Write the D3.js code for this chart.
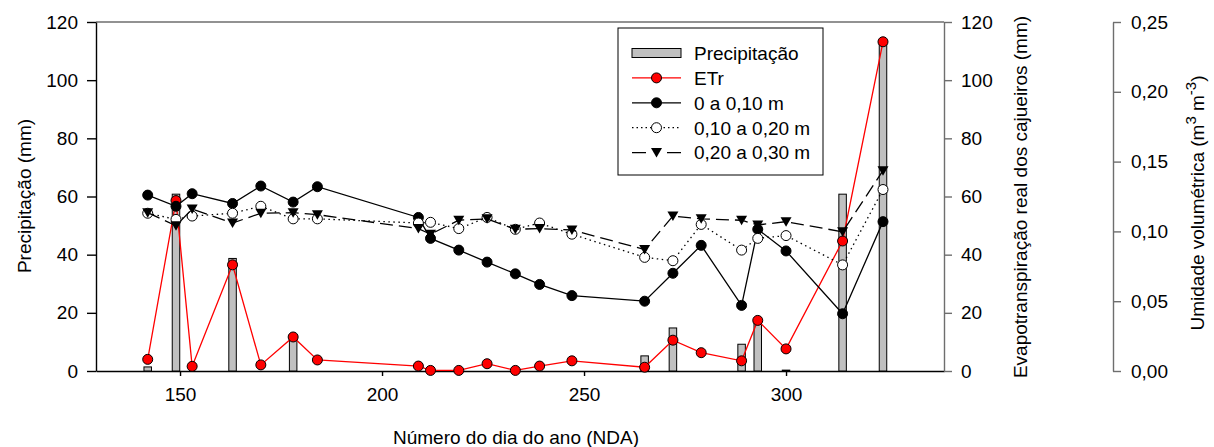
<!DOCTYPE html>
<html>
<head>
<meta charset="utf-8">
<script src="https://cdn.jsdelivr.net/npm/d3@7"></script>
<style>
  body { margin: 0; background: #fff; }
  text { font-family: "Liberation Sans", Arial, sans-serif; }
</style>
</head>
<body>
<svg id="chart" width="1214" height="447"></svg>
<script>
// Sampling days (NDA)
const days = [142, 149, 153, 163, 170, 178, 184, 209, 212, 219, 226, 233, 239, 247, 265, 272, 279, 289, 293, 300, 314, 324];

// Precipitation bars (mm)
const rainDays = [142, 149, 163, 178, 265, 272, 289, 293, 300, 314, 324];
const rainValues = [1.4, 60.8, 38.7, 12, 5.2, 14.8, 9.2, 17.5, 0.3, 60.8, 113.3];

// Real evapotranspiration (mm)
const etr = [4.0, 58.6, 1.6, 36.5, 2.1, 11.7, 3.8, 1.7, 0.2, 0.2, 2.5, 0.2, 1.7, 3.5, 1.3, 10.6, 6.3, 3.5, 17.4, 7.6, 44.7, 113.2];

// Soil moisture (m3 m-3)
const soil0to10 = [0.126, 0.118, 0.127, 0.120, 0.1325, 0.121, 0.132, 0.110, 0.095, 0.0866, 0.078, 0.0696, 0.062, 0.054, 0.050, 0.070, 0.090, 0.047, 0.1015, 0.086, 0.041, 0.107];
const soil10to20 = [0.113, 0.1086, 0.111, 0.113, 0.118, 0.109, 0.109, 0.106, 0.1065, 0.102, 0.110, 0.1015, 0.106, 0.098, 0.0814, 0.079, 0.105, 0.0866, 0.095, 0.097, 0.076, 0.130];
const soil20to30 = [0.1134, 0.104, 0.116, 0.106, 0.113, 0.1134, 0.112, 0.102, 0.098, 0.108, 0.109, 0.1015, 0.102, 0.101, 0.087, 0.111, 0.109, 0.108, 0.1046, 0.107, 0.0997, 0.1435];

const xTicks = [150, 200, 250, 300];
const mmTicks = [0, 20, 40, 60, 80, 100, 120];
const soilTicks = [0, 0.05, 0.10, 0.15, 0.20, 0.25];

const svg = d3.select("#chart");
const FS = "19px";

const plotLeft = 96, plotRight = 944, plotTop = 22, plotBottom = 371;

const x = d3.scaleLinear().domain([129.2, 339.1]).range([plotLeft, plotRight]);
const yRain = d3.scaleLinear().domain([0, 120]).range([plotBottom, plotTop]);
const yEt = d3.scaleLinear().domain([0, 120]).range([plotBottom, plotTop]);
const ySoil = d3.scaleLinear().domain([0, 0.25]).range([plotBottom, plotTop]);

const comma = v => d3.format(".2f")(v).replace(".", ",");

// top frame line
svg.append("line")
  .attr("x1", plotLeft).attr("x2", plotRight).attr("y1", plotTop).attr("y2", plotTop)
  .attr("stroke", "#6e6e6e").attr("stroke-width", 1.6);

// axes
function styleAxis(g, color) {
  g.selectAll("path").attr("stroke", color).attr("stroke-width", 1.4);
  g.selectAll("line").attr("stroke", color).attr("stroke-width", 1.4);
  g.selectAll("text").attr("font-size", FS).attr("fill", "#000")
    .attr("font-family", "Liberation Sans, Arial, sans-serif");
}

const gx = svg.append("g").attr("transform", `translate(0,${plotBottom})`)
  .call(d3.axisBottom(x).tickValues(xTicks).tickSize(5).tickSizeOuter(0).tickPadding(12));
styleAxis(gx, "#000");

const gl = svg.append("g").attr("transform", `translate(${plotLeft},0)`)
  .call(d3.axisLeft(yRain).tickValues(mmTicks).tickSize(9).tickSizeOuter(0).tickPadding(9));
styleAxis(gl, "#000");

const gr = svg.append("g").attr("transform", `translate(${plotRight},0)`)
  .call(d3.axisRight(yEt).tickValues(mmTicks).tickSize(8).tickSizeOuter(0).tickPadding(9));
styleAxis(gr, "#6e6e6e");

const gs = svg.append("g").attr("transform", "translate(1113,0)")
  .call(d3.axisRight(ySoil).tickValues(soilTicks).tickFormat(comma).tickSize(8).tickSizeOuter(0).tickPadding(10));
styleAxis(gs, "#6e6e6e");

// axis titles
svg.append("text").attr("x", (plotLeft + plotRight) / 2 - 4).attr("y", 444)
  .attr("text-anchor", "middle").attr("font-size", FS)
  .text("Número do dia do ano (NDA)");

svg.append("text").attr("transform", "translate(31,196) rotate(-90)")
  .attr("text-anchor", "middle").attr("font-size", FS)
  .text("Precipitação (mm)");

svg.append("text").attr("transform", "translate(1027,197) rotate(-90)")
  .attr("text-anchor", "middle").attr("font-size", FS)
  .text("Evapotranspiração real dos cajueiros (mm)");

const soilTitle = svg.append("text").attr("transform", "translate(1204,203) rotate(-90)")
  .attr("text-anchor", "middle").attr("font-size", FS);
soilTitle.append("tspan").text("Umidade volumétrica (m");
soilTitle.append("tspan").attr("font-size", "15px").attr("dy", -8).text("3");
soilTitle.append("tspan").attr("dy", 8).text(" m");
soilTitle.append("tspan").attr("font-size", "15px").attr("dy", -8).text("-3");
soilTitle.append("tspan").attr("dy", 8).text(")");

// precipitation bars
const barW = 7.5;
svg.append("g").selectAll("rect")
  .data(rainDays.map((d, i) => ({ day: d, v: rainValues[i] })))
  .join("rect")
  .attr("x", d => x(d.day) - barW / 2)
  .attr("y", d => yRain(d.v))
  .attr("width", barW)
  .attr("height", d => plotBottom - yRain(d.v))
  .attr("fill", "#c0c0c0")
  .attr("stroke", "#000")
  .attr("stroke-width", 1);

const triPath = "M-5.5,-4.5L5.5,-4.5L0,5Z";

function drawSeries(values, yScale, opt) {
  const pts = days.map((d, i) => [x(d), yScale(values[i])]);
  svg.append("path")
    .attr("d", d3.line()(pts))
    .attr("fill", "none")
    .attr("stroke", opt.line)
    .attr("stroke-width", 1.3)
    .attr("stroke-dasharray", opt.dash || null);
  const g = svg.append("g");
  if (opt.shape === "tri") {
    g.selectAll("path").data(pts).join("path")
      .attr("transform", p => `translate(${p[0]},${p[1]})`)
      .attr("d", triPath).attr("fill", "#000");
  } else {
    g.selectAll("circle").data(pts).join("circle")
      .attr("cx", p => p[0]).attr("cy", p => p[1]).attr("r", 5)
      .attr("fill", opt.fill).attr("stroke", "#000").attr("stroke-width", 1);
  }
}

drawSeries(etr, yEt, { line: "#ff0000", fill: "#ff0000" });
drawSeries(soil0to10, ySoil, { line: "#000", fill: "#000" });
drawSeries(soil10to20, ySoil, { line: "#000", fill: "#fff", dash: "1.5,3.5" });
drawSeries(soil20to30, ySoil, { line: "#000", shape: "tri", dash: "13,6" });

// legend
const lg = svg.append("g");
lg.append("rect").attr("x", 618).attr("y", 28).attr("width", 205).attr("height", 147)
  .attr("fill", "#fff").attr("stroke", "#000").attr("stroke-width", 1);

const legendItems = [
  { label: "Precipitação", kind: "bar" },
  { label: "ETr", kind: "circle", line: "#ff0000", fill: "#ff0000" },
  { label: "0 a 0,10 m", kind: "circle", line: "#000", fill: "#000" },
  { label: "0,10 a 0,20 m", kind: "circle", line: "#000", fill: "#fff", dash: "1.5,3" },
  { label: "0,20 a 0,30 m", kind: "tri", line: "#000", dash: "14,21,14" }
];

legendItems.forEach((it, i) => {
  const cy = 53 + i * 24.9;
  if (it.kind === "bar") {
    lg.append("rect").attr("x", 632).attr("y", cy - 4.5).attr("width", 49).attr("height", 9)
      .attr("fill", "#c0c0c0").attr("stroke", "#000").attr("stroke-width", 1);
  } else {
    lg.append("line").attr("x1", 632).attr("x2", 681).attr("y1", cy).attr("y2", cy)
      .attr("stroke", it.line).attr("stroke-width", 1.3)
      .attr("stroke-dasharray", it.dash || null);
    if (it.kind === "tri") {
      lg.append("path").attr("transform", `translate(656.5,${cy})`).attr("d", triPath).attr("fill", "#000");
    } else {
      lg.append("circle").attr("cx", 656.5).attr("cy", cy).attr("r", 5)
        .attr("fill", it.fill).attr("stroke", "#000").attr("stroke-width", 1);
    }
  }
  lg.append("text").attr("x", 694).attr("y", cy).attr("dy", "0.36em")
    .attr("font-size", FS).text(it.label);
});
</script>
</body>
</html>
